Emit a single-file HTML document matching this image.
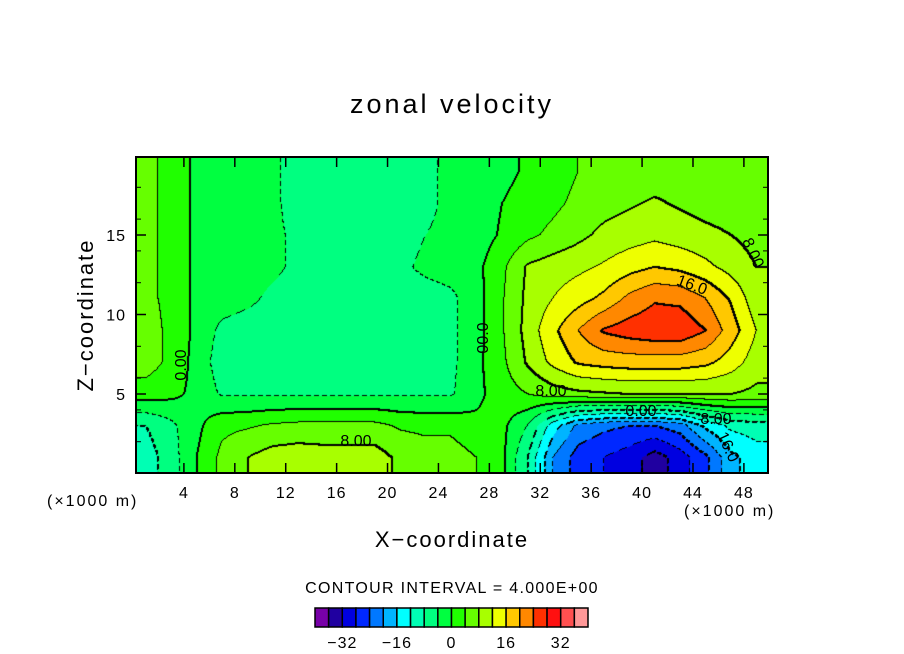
<!DOCTYPE html>
<html><head><meta charset="utf-8"><style>
html,body{margin:0;padding:0;background:#fff;}
#wrap{position:relative;width:904px;height:654px;overflow:hidden;font-family:"Liberation Sans",sans-serif;}
canvas{position:absolute;left:136px;top:157px;}
svg{position:absolute;left:0;top:0;}
</style></head><body>
<div id="wrap">
<canvas id="cv" width="632" height="316"></canvas>
<svg id="sv" width="904" height="654"></svg>
</div>
<script>
// grid columns: x = 1,3,...,49 (km); rows: z = 1,3,...,19 (km), listed bottom to top
const xCenters = [1,3,5,7,9,11,13,15,17,19,21,23,25,27,29,31,33,35,37,39,41,43,45,47,49];
const zCenters = [1,3,5,7,9,11,13,15,17,19];
const rowZ1  = [-10,-6,0,5,8,10,10.5,10,10,10,7,6,6,4,1,-8,-20,-26,-28,-30,-34,-30,-25,-17,-14];
const rowZ3  = [-8,-5,-1,3,3.5,4.5,5,5,5,5,3.5,3,3,1,1,-4,-14,-21,-23,-24,-24,-22,-15,-11,-10];
const rowZ5  = [2,1,-1,-4.5,-4.5,-4.5,-4.5,-4.5,-4.5,-4.5,-4.5,-4.5,-4.5,-1,2,4,6,7,7.5,8,8,8,8,8,7];
const rowZ7  = [6,3,-1.5,-6,-6,-6,-5,-6,-6,-5,-6,-6,-5,-1,3,8.5,13,16.5,17.5,18,18,18,17,14,10];
const rowZ9  = [6,3,-1,-5,-6,-6,-6,-6,-6,-6,-6,-6,-5,-1.5,3.5,9.5,15,20,24.5,26,27,27,24,18,12];
const rowZ11 = [5,3,-1,-2,-3,-5,-6,-6,-6,-6,-6,-6,-5,-1.5,3.5,9,12,14.5,17,21,23.5,23,20,15.5,9.5];
const rowZ13 = [5,3,-1,-2,-2,-3,-5,-6,-6,-6,-5,-3,-2,-1,3,8.5,10,11,12.5,14.5,16,15,13,10.5,8];
const rowZ15 = [5,3,-1,-2,-2,-3,-5,-6,-6,-6,-6,-4,-3,-2,0.5,3,5,7,9,10,11,10,9,8,6.5];
const rowZ17 = [5,3,-1,-2,-2,-3,-6,-6,-6,-6,-6,-5,-3,-2,0,1.5,3,5,6.5,7.5,8.5,7.5,6.5,6,5.5];
const rowZ19 = [5,3,-1,-2,-2,-3,-6,-6,-6,-6,-6,-5,-3,-2,-1,0.5,2,4,5,6,6,6,6,6,6];
const gridRows = [rowZ1,rowZ3,rowZ5,rowZ7,rowZ9,rowZ11,rowZ13,rowZ15,rowZ17,rowZ19];
const levelMin = -40, levelStep = 4;
const binColors = ["#7800a8","#2000a0","#0000e0","#0028ff","#0078ff","#00b4ff","#00ffff","#00ffb4","#00ff80","#00ff40","#20ff00","#66ff00","#a8ff00","#eeff00","#ffc800","#ff8800","#ff3000","#ff1010","#ff5050","#ff9898"];
const xTicks = [4,8,12,16,20,24,28,32,36,40,44,48];
const zTicks = [5,10,15];
const cbTicks = [-32,-16,0,16,32];

// axis functions
const PX0=136,PX1=768,PY0=157,PY1=473;
const sx = x => 133 + x*12.727;
const sz = z => 473.5 - z*15.9;
const ix = px => (px-133)/12.727;
const iz = py => (473.5-py)/15.9;

function sample(x,z){
  let fi=(x-xCenters[0])/2, fj=(z-zCenters[0])/2;
  fi=Math.max(0,Math.min(xCenters.length-1,fi));
  fj=Math.max(0,Math.min(zCenters.length-1,fj));
  const i0=Math.min(Math.floor(fi),xCenters.length-2), j0=Math.min(Math.floor(fj),zCenters.length-2);
  const tx=fi-i0, tz=fj-j0;
  const a=gridRows[j0][i0], b=gridRows[j0][i0+1], c=gridRows[j0+1][i0], d=gridRows[j0+1][i0+1];
  return (a*(1-tx)+b*tx)*(1-tz)+(c*(1-tx)+d*tx)*tz;
}
function hex(h){return [parseInt(h.substr(1,2),16),parseInt(h.substr(3,2),16),parseInt(h.substr(5,2),16)];}
const rgb = binColors.map(hex);
const cv=document.getElementById('cv'), ctx=cv.getContext('2d');
const W=632,H=316, img=ctx.createImageData(W,H);
const bins=new Int16Array(W*H);
const black=new Uint8Array(W*H);
for(let py=0;py<H;py++)for(let px=0;px<W;px++){
  const v=sample(ix(PX0+px+0.5),iz(PY0+py+0.5));
  let b=Math.floor((v-levelMin)/levelStep); b=Math.max(0,Math.min(19,b));
  bins[py*W+px]=b;
}
for(let py=0;py<H;py++)for(let px=0;px<W;px++){
  const k=py*W+px, b=bins[k];
  const r=px<W-1?bins[k+1]:b, d=py<H-1?bins[k+W]:b;
  if(r!==b||d!==b){
    const lv=Math.max(b,r,d)*levelStep+levelMin;
    const neg=lv<0;
    if(!neg || ((px+py)%8)<5){
      black[k]=1;
      if(lv%8===0){ if(px<W-1)black[k+1]=1; if(py<H-1)black[k+W]=1; }
    }
  }
}
for(let k=0;k<W*H;k++){
  const col=black[k]?[0,0,0]:rgb[bins[k]];
  img.data[k*4]=col[0];img.data[k*4+1]=col[1];img.data[k*4+2]=col[2];img.data[k*4+3]=255;
}
ctx.putImageData(img,0,0);

const NS='http://www.w3.org/2000/svg', sv=document.getElementById('sv');
function el(tag,attrs,txt){const e=document.createElementNS(NS,tag);for(const k in attrs)e.setAttribute(k,attrs[k]);if(txt!==undefined)e.textContent=txt;sv.appendChild(e);return e;}
const F='"Liberation Sans",sans-serif';
let e;
e=el('rect',{x:PX0,y:PY0,width:PX1-PX0,height:PY1-PY0,fill:'none',stroke:'#000','stroke-width':2});


xTicks.forEach(t=>{
  const X=sx(t);
  e=el('line',{x1:X,x2:X,y1:PY1,y2:PY1-10,stroke:'#000','stroke-width':1.5});
  
  
  e=el('line',{x1:X,x2:X,y1:PY0,y2:PY0+10,stroke:'#000','stroke-width':1.5});
  
  
  e=el('text',{x:X,y:498,'font-family':F,'font-size':16,'letter-spacing':1,'text-anchor':'middle'},String(t));
  
  
});
for(let z=2;z<20;z+=2){
  const Y=sz(z);
  e=el('line',{x1:PX0,x2:PX0+5,y1:Y,y2:Y,stroke:'#000'});
  
  
  e=el('line',{x1:PX1,x2:PX1-5,y1:Y,y2:Y,stroke:'#000'});
  
  
}
zTicks.forEach(t=>{
  const Y=sz(t);
  e=el('line',{x1:PX0,x2:PX0+10,y1:Y,y2:Y,stroke:'#000','stroke-width':1.5});
  
  
  e=el('line',{x1:PX1,x2:PX1-10,y1:Y,y2:Y,stroke:'#000','stroke-width':1.5});
  
  
  e=el('text',{x:126,y:Y+6,'font-family':F,'font-size':16,'letter-spacing':1,'text-anchor':'end'},String(t));
  
  
});
const cl=[["0.00",181,370,-90],["00.0",483,343,-90],["8.00",356,446,0],["8.00",551,396,0],["0.00",641,416,0],["8.00",716,424,0],["16.0",692,290,20],["8.00",753,258,65],["16.0",728,452,65]];
cl.forEach(c=>{
  e=el('text',{x:c[1],y:c[2],'font-family':F,'font-size':16,'text-anchor':'middle',transform:`rotate(${c[3]} ${c[1]} ${c[2]-5})`},c[0]);
  
  
});
e=el('text',{x:452,y:113,'font-family':F,'font-size':27,'letter-spacing':3,'text-anchor':'middle'},'zonal velocity');


e=el('text',{x:452,y:547,'font-family':F,'font-size':22,'letter-spacing':2,'text-anchor':'middle'},'X\u2212coordinate');


e=el('text',{x:93,y:315,'font-family':F,'font-size':22,'letter-spacing':2,'text-anchor':'middle',transform:'rotate(-90 93 315)'},'Z\u2212coordinate');


e=el('text',{x:47,y:506,'font-family':F,'font-size':16,'letter-spacing':2},'(\u00d71000 m)');


e=el('text',{x:684,y:516,'font-family':F,'font-size':16,'letter-spacing':2},'(\u00d71000 m)');


e=el('text',{x:452,y:593,'font-family':F,'font-size':16,'letter-spacing':1.3,'text-anchor':'middle'},'CONTOUR INTERVAL = 4.000E+00');


const cb = v => 315 + (v-levelMin)*3.4125;
binColors.forEach((c,i)=>{
  const v=levelMin+i*levelStep;
  e=el('rect',{x:cb(v),y:608,width:cb(v+levelStep)-cb(v),height:19,fill:c,stroke:'#000','stroke-width':1.5});
  
  
});
cbTicks.forEach(t=>{
  e=el('text',{x:cb(t),y:648,'font-family':F,'font-size':16,'letter-spacing':1,'text-anchor':'middle'},t<0?'\u2212'+(-t):String(t));
  
  
});
</script>
</body></html>
